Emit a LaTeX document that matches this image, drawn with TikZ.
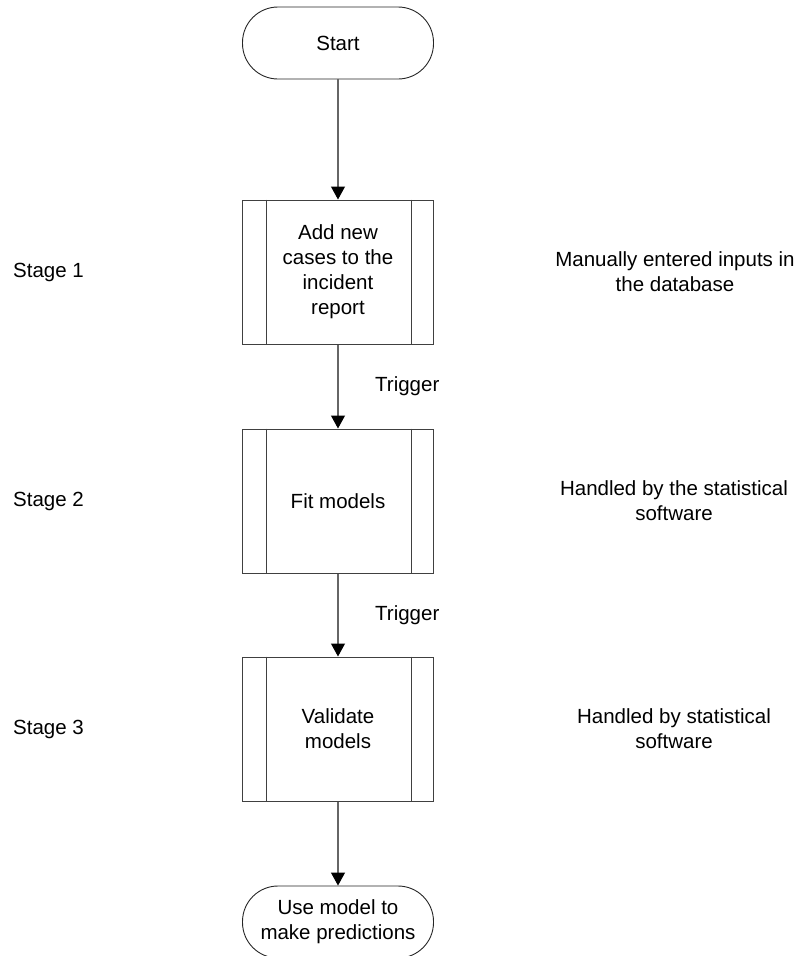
\documentclass[tikz,border=0pt]{standalone}
\usepackage{fontspec}
\setmainfont{Liberation Sans}
\usetikzlibrary{arrows.meta,calc}
\begin{document}
\begin{tikzpicture}[x=1pt,y=-1pt,
  every node/.style={font=\fontsize{20.5pt}{25pt}\selectfont, align=center, inner sep=0pt},
  terminal/.style={draw=black!85, line width=0.9pt, rounded corners=35.5pt, minimum width=191pt, minimum height=72pt},
  procbox/.style={draw=black!75, line width=1pt, minimum width=191pt, minimum height=144pt},
  flow/.style={draw=black!60, line width=1.1pt, -{Triangle[length=13pt,width=14pt,fill=black,color=black]}},
  side/.style={anchor=center},
  stage/.style={anchor=west}
]
\useasboundingbox (0,0) rectangle (801,956);
\begin{scope}
\clip (0,0) rectangle (801,956);
\node[terminal] (start) at (338,43) {Start};
\node[procbox] (b1) at (338,272) {Add new\\cases to the\\incident\\report};
\node[procbox] (b2) at (338,501) {Fit models};
\node[procbox] (b3) at (338,729) {Validate\\models};
\node[terminal] (end) at (338,922) {Use model to\\make predictions};
\end{scope}
\foreach \b in {b1,b2,b3}{
  \draw[black!75, line width=1pt] ($(\b.north west)+(24,0)$) -- ($(\b.south west)+(24,0)$);
  \draw[black!75, line width=1pt] ($(\b.north east)+(-23,0)$) -- ($(\b.south east)+(-23,0)$);
}
\draw[flow] (start) -- (b1);
\draw[flow] (b1) -- (b2);
\draw[flow] (b2) -- (b3);
\draw[flow] (b3) -- (end);
\node[anchor=west] (t1) at (375,386) {Trigger};
\node[anchor=west] (t2) at (375,615) {Trigger};
\node[stage] (s1) at (13,272) {Stage 1};
\node[stage] (s2) at (13,501) {Stage 2};
\node[stage] (s3) at (13,729) {Stage 3};
\node[side] (r1) at (675,272) {Manually entered inputs in\\the database};
\node[side] (r2) at (674,501) {Handled by the statistical\\software};
\node[side] (r3) at (674,729) {Handled by statistical\\software};
\end{tikzpicture}
\end{document}
